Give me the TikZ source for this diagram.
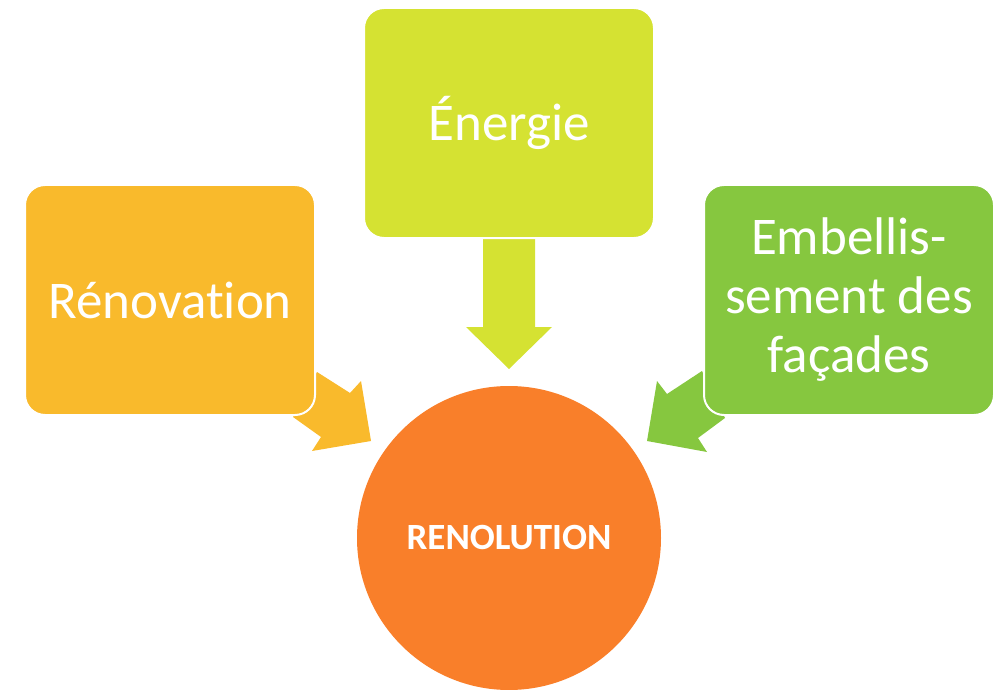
\documentclass[tikz,border=0pt]{standalone}
\usepackage{fontspec}
\setmainfont{Carlito}[RawFeature={-liga;-clig;-dlig}]
\definecolor{cOrange}{HTML}{F9BA2C}
\definecolor{cLime}{HTML}{D5E232}
\definecolor{cGreen}{HTML}{86C73F}
\definecolor{cCirc}{HTML}{F97F2A}
\begin{document}
\begin{tikzpicture}[x=1pt,y=-1pt,
  boxstyle/.style={draw=white,line width=2pt,rounded corners=20pt,minimum width=290pt,minimum height=230pt,inner sep=0pt,text=white,font=\fontsize{53}{59}\selectfont,align=center},
  arrowstyle/.style={draw=none}]
\useasboundingbox (0,0) rectangle (1002,690);
% arrows (drawn under boxes)
\fill[cOrange] (293,417) -- (317,372) -- (350,393) -- (361,381) -- (371,441) -- (312,451) -- (321,437) -- cycle;
\fill[cGreen] (725,418) -- (702,371) -- (667,394) -- (657,381) -- (647,441) -- (707,452) -- (698,438) -- cycle;
\fill[cLime] (483,236) -- (535,236) -- (535,327) -- (552,327) -- (509,369) -- (466,327) -- (483,327) -- cycle;
% boxes
\node[boxstyle,fill=cOrange] (renov) at (170,300) {Rénovation};
\node[boxstyle,fill=cLime] (energ) at (509,123) {Énergie};
\node[boxstyle,fill=cGreen] (embel) at (849,300) {Embellis-\\sement des\\façades};
% circle
\node[circle,fill=cCirc,minimum size=304pt,inner sep=0pt,text=white,font=\fontsize{37}{44}\selectfont\bfseries] (reno) at (509,538) {RENOLUTION};
\end{tikzpicture}
\end{document}
